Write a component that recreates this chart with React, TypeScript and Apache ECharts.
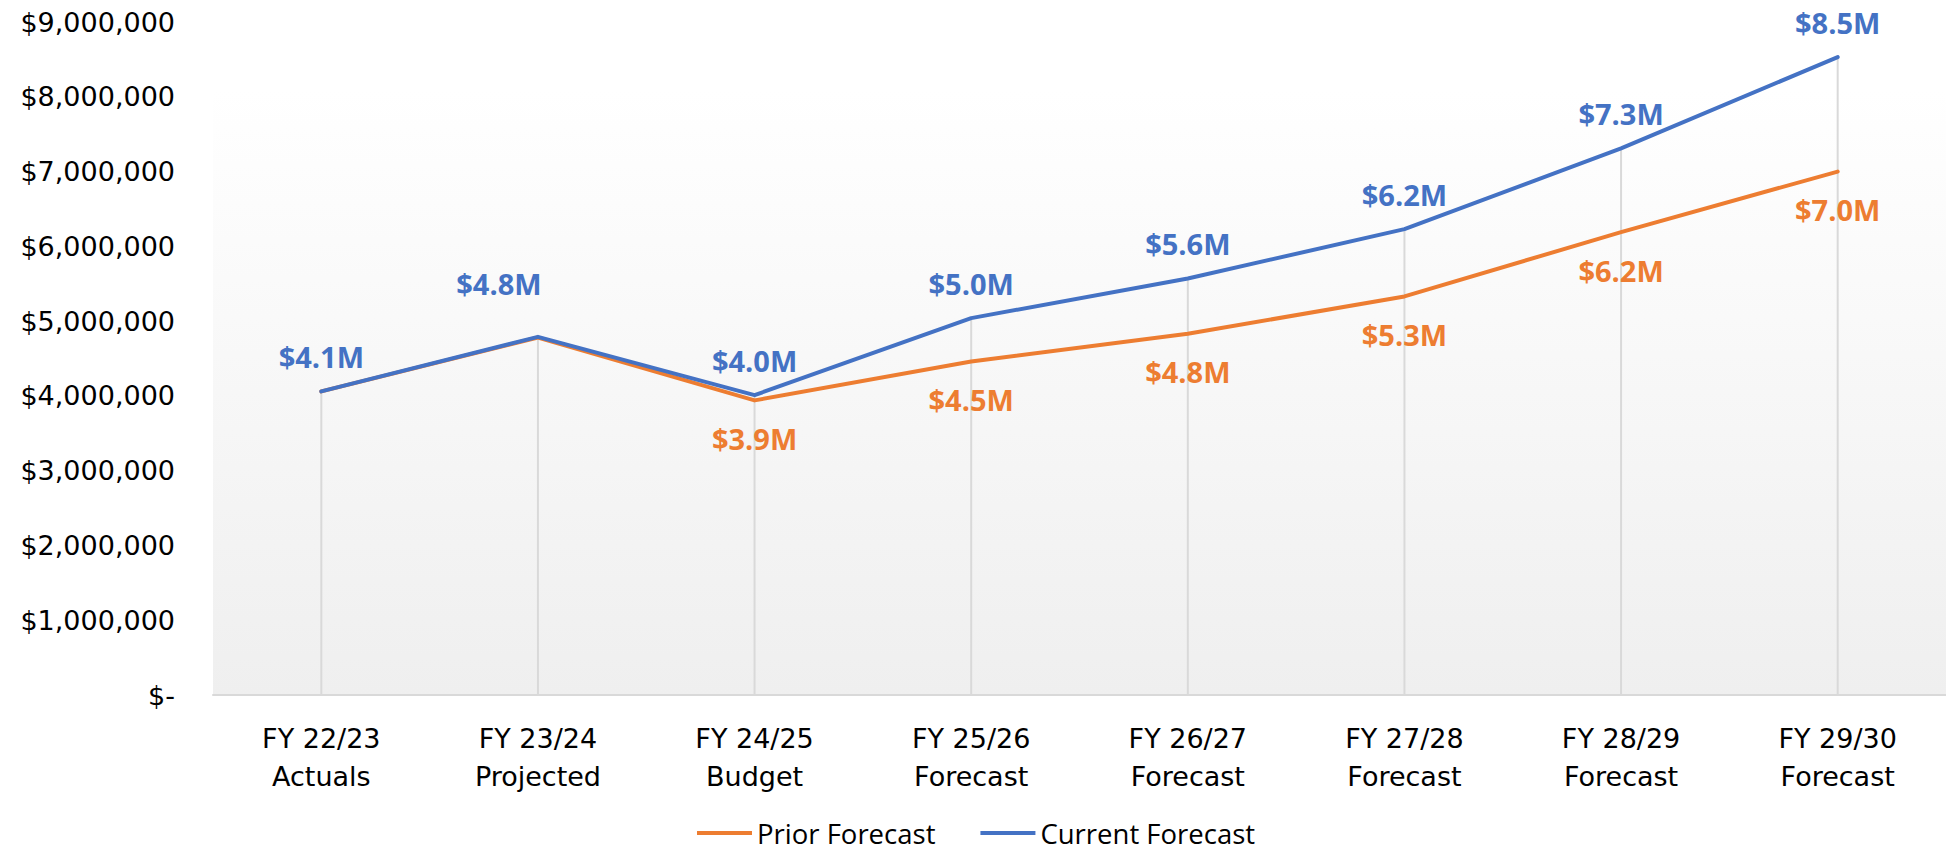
import React, { useEffect, useRef } from "react";
import * as echarts from "echarts";

const categories = [
  "FY 22/23\nActuals",
  "FY 23/24\nProjected",
  "FY 24/25\nBudget",
  "FY 25/26\nForecast",
  "FY 26/27\nForecast",
  "FY 27/28\nForecast",
  "FY 28/29\nForecast",
  "FY 29/30\nForecast",
];
const priorForecast = [4060000, 4780000, 3940000, 4460000, 4830000, 5330000, 6190000, 7000000];
const currentForecast = [4060000, 4790000, 4010000, 5040000, 5570000, 6230000, 7310000, 8530000];
const priorLabelHidden = [true, true, false, false, false, false, false, false];
const yMin = 0;
const yMax = 9000000;
const yStep = 1000000;

const ORANGE = "#ED7D31";
const BLUE = "#4472C4";

const fmtM = (v: number) => "$" + (v / 1e6).toFixed(1) + "M";
const fmtAxis = (v: number) => (v === 0 ? "$-" : "$" + v.toLocaleString("en-US"));

export default function App() {
  const ref = useRef<HTMLDivElement>(null);
  useEffect(() => {
    document.body.style.margin = "0";
    const chart = echarts.init(ref.current!, null, { renderer: "svg" });
    const dropTops = categories.map((_, i) => Math.max(priorForecast[i], currentForecast[i]));
    chart.setOption({
      animation: false,
      backgroundColor: "#ffffff",
      grid: {
        left: 213,
        right: -3,
        top: 22,
        bottom: 157,
        show: true,
        borderWidth: 0,
        backgroundColor: new echarts.graphic.LinearGradient(0, 0, 0, 1, [
          { offset: 0, color: "#ffffff" },
          { offset: 0.1, color: "#ffffff" },
          { offset: 1, color: "#efefef" },
        ]),
      },
      legend: {
        left: 697,
        top: 818,
        padding: 0,
        icon: "rect",
        itemWidth: 55,
        itemHeight: 4,
        itemGap: 45,
        data: ["Prior Forecast", "Current Forecast"],
        textStyle: {
          fontFamily: "'Open Sans', sans-serif",
          fontSize: 27.5,
          lineHeight: 30,
          color: "#000",
        },
      },
      xAxis: {
        type: "category",
        data: categories,
        boundaryGap: true,
        axisLine: { lineStyle: { color: "#d9d9d9", width: 2 } },
        axisTick: { show: false },
        axisLabel: {
          margin: 24,
          fontFamily: "'DejaVu Sans', sans-serif",
          fontSize: 27,
          lineHeight: 38,
          color: "#000",
          interval: 0,
        },
      },
      yAxis: {
        type: "value",
        min: yMin,
        max: yMax,
        interval: yStep,
        splitLine: { show: false },
        axisLine: { show: false },
        axisTick: { show: false },
        axisLabel: {
          margin: 38,
          fontFamily: "'DejaVu Sans', sans-serif",
          fontSize: 27,
          color: "#000",
          formatter: fmtAxis,
        },
      },
      series: [
        {
          name: "Drop",
          type: "bar",
          data: dropTops,
          barWidth: 2,
          itemStyle: { color: "#d9d9d9" },
          z: 1,
          silent: true,
        },
        {
          name: "Prior Forecast",
          type: "line",
          data: priorForecast.map((v, i) => ({
            value: v,
            label: { show: !priorLabelHidden[i] },
          })),
          symbol: "circle",
          symbolSize: 1,
          itemStyle: { color: ORANGE },
          lineStyle: { color: ORANGE, width: 4, cap: "round", join: "round" },
          z: 3,
          label: {
            show: true,
            position: "bottom",
            distance: 23,
            color: ORANGE,
            fontFamily: "'Open Sans', sans-serif",
            fontWeight: "bold",
            fontSize: 29,
            formatter: (p: any) => fmtM(p.value),
          },
        },
        {
          name: "Current Forecast",
          type: "line",
          data: currentForecast.map((v, i) =>
            i === 1 ? { value: v, label: { offset: [-39, -18] } } : { value: v }
          ),
          symbol: "circle",
          symbolSize: 1,
          itemStyle: { color: BLUE },
          lineStyle: { color: BLUE, width: 4, cap: "round", join: "round" },
          z: 4,
          label: {
            show: true,
            position: "top",
            distance: 20,
            color: BLUE,
            fontFamily: "'Open Sans', sans-serif",
            fontWeight: "bold",
            fontSize: 29,
            formatter: (p: any) => fmtM(p.value),
          },
        },
      ],
    });
    return () => chart.dispose();
  }, []);
  return <div ref={ref} style={{ width: 1946, height: 852 }} />;
}
